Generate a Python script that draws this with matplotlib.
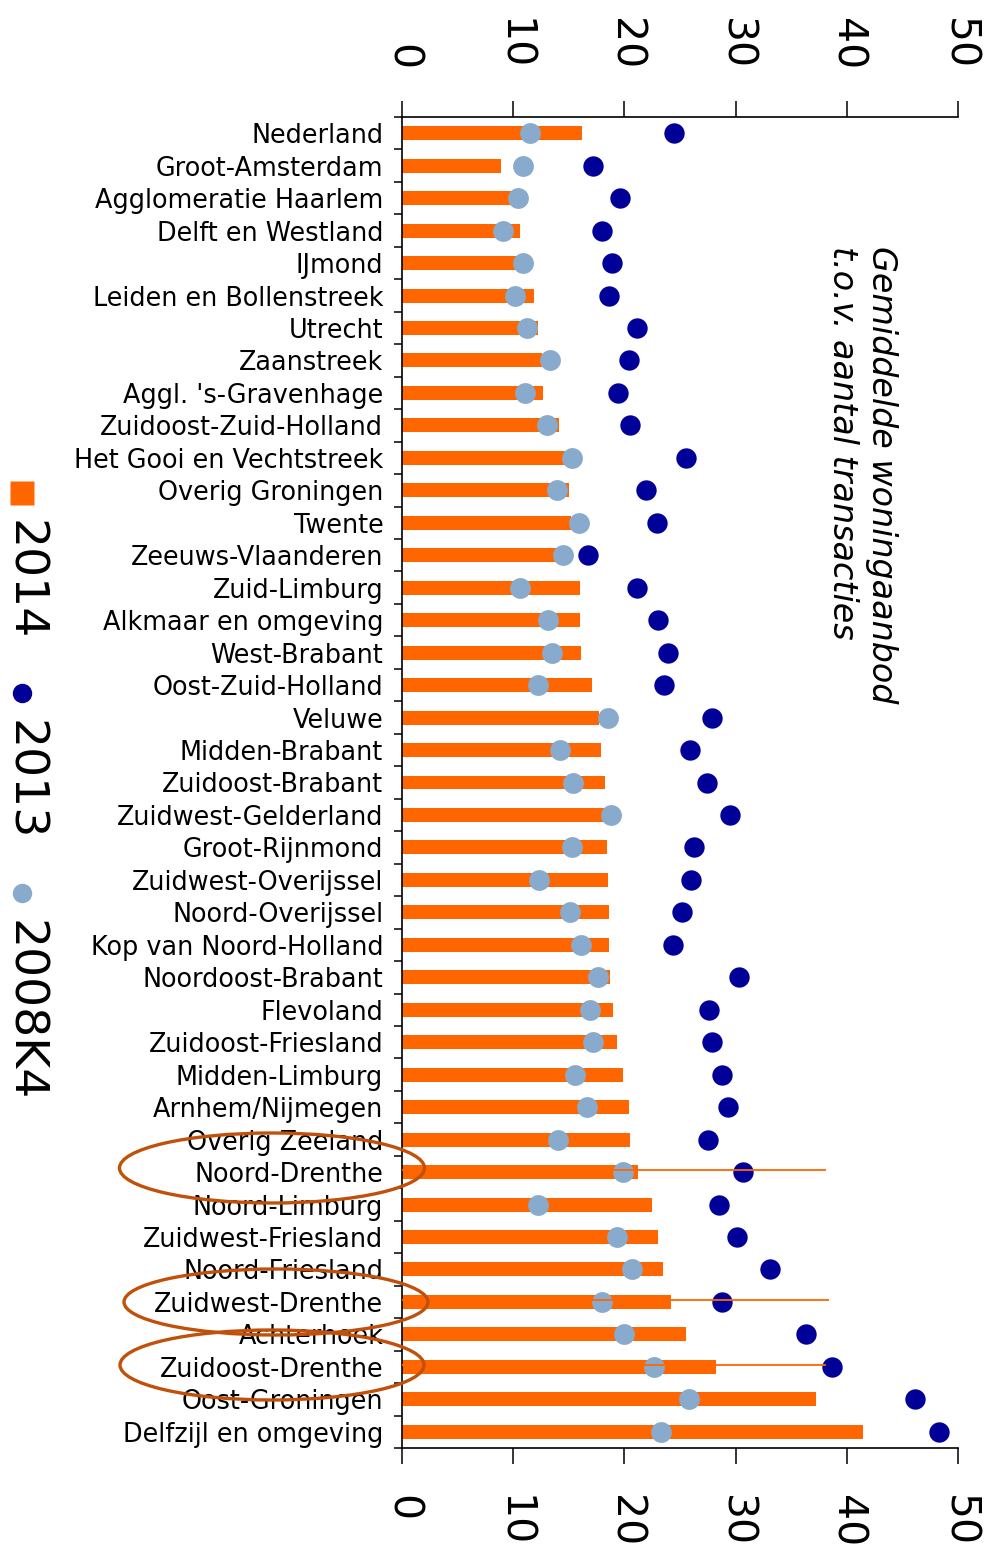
import matplotlib
matplotlib.use('Agg')
import matplotlib.pyplot as plt
from matplotlib.patches import Ellipse
from matplotlib.lines import Line2D
import numpy as np

# Regio's, van boven naar beneden
regios = [
    'Nederland', 'Groot-Amsterdam', 'Agglomeratie Haarlem', 'Delft en Westland',
    'IJmond', 'Leiden en Bollenstreek', 'Utrecht', 'Zaanstreek',
    "Aggl. 's-Gravenhage", 'Zuidoost-Zuid-Holland', 'Het Gooi en Vechtstreek',
    'Overig Groningen', 'Twente', 'Zeeuws-Vlaanderen', 'Zuid-Limburg',
    'Alkmaar en omgeving', 'West-Brabant', 'Oost-Zuid-Holland', 'Veluwe',
    'Midden-Brabant', 'Zuidoost-Brabant', 'Zuidwest-Gelderland', 'Groot-Rijnmond',
    'Zuidwest-Overijssel', 'Noord-Overijssel', 'Kop van Noord-Holland',
    'Noordoost-Brabant', 'Flevoland', 'Zuidoost-Friesland', 'Midden-Limburg',
    'Arnhem/Nijmegen', 'Overig Zeeland', 'Noord-Drenthe', 'Noord-Limburg',
    'Zuidwest-Friesland', 'Noord-Friesland', 'Zuidwest-Drenthe', 'Achterhoek',
    'Zuidoost-Drenthe', 'Oost-Groningen', 'Delfzijl en omgeving',
]

# maanden woningaanbod t.o.v. transacties
v2014 = [16.2, 8.9, 9.9, 10.6, 10.4, 11.9, 12.2, 12.6, 12.7, 14.1,
         14.7, 15.0, 15.2, 14.4, 16.0, 16.0, 16.1, 17.1, 17.7, 17.9,
         18.3, 18.2, 18.4, 18.5, 18.6, 18.6, 18.7, 19.0, 19.3, 19.9,
         20.4, 20.5, 21.2, 22.5, 23.0, 23.5, 24.2, 25.5, 28.2, 37.2, 41.5]
v2013 = [24.5, 17.2, 19.6, 18.0, 18.9, 18.6, 21.1, 20.4, 19.4, 20.5,
         25.5, 21.9, 22.9, 16.7, 21.1, 23.0, 23.9, 23.6, 27.9, 25.9,
         27.4, 29.5, 26.3, 26.0, 25.2, 24.4, 30.3, 27.6, 27.9, 28.8,
         29.3, 27.5, 30.7, 28.5, 30.1, 33.1, 28.8, 36.3, 38.7, 46.1, 48.3]
v2008k4 = [11.5, 10.9, 10.4, 9.1, 10.9, 10.2, 11.2, 13.3, 11.1, 13.0,
           15.3, 13.9, 15.9, 14.5, 10.6, 13.1, 13.5, 12.2, 18.5, 14.2,
           15.4, 18.8, 15.3, 12.3, 15.1, 16.1, 17.6, 16.9, 17.2, 15.6,
           16.6, 14.0, 19.9, 12.2, 19.3, 20.7, 18.0, 20.0, 22.7, 25.8, 23.3]

# Drentse regio's die extra worden uitgelicht
drenthe = ['Noord-Drenthe', 'Zuidwest-Drenthe', 'Zuidoost-Drenthe']
drenthe_lijn = [38.1, 38.4, 38.1]

ORANJE = '#FF6600'
DONKER = '#000099'
LICHT = '#88AACC'
OMCIRKEL = '#C0500A'

W, H = 989, 1555
fig = plt.figure(figsize=(W / 100, H / 100), dpi=100)
fig.patch.set_facecolor('white')


def fx(px):
    return px / W


def fy(py):
    return 1 - py / H


ax = fig.add_axes([fx(402), fy(1448), fx(958) - fx(402), fy(117) - fy(1448)])

y = np.arange(len(regios))
ax.barh(y, v2014, height=0.43, color=ORANJE, zorder=2)
ax.scatter(v2013, y, s=215, color=DONKER, zorder=3, linewidths=0)
ax.scatter(v2008k4, y, s=225, color=LICHT, zorder=4, linewidths=0)

for naam, eind in zip(drenthe, drenthe_lijn):
    i = regios.index(naam)
    ax.hlines(i - 0.05, 0, eind, color=ORANJE, lw=1.3, zorder=5)

ax.set_xlim(0, 50)
ax.set_ylim(len(regios) - 0.5, -0.5)

# x-as boven en onder, cijfers gedraaid
ax.set_xticks(np.arange(0, 51, 10))
ax.tick_params(axis='x', which='major', top=True, bottom=True, labeltop=True,
               labelbottom=True, direction='out', length=11.5, width=1.1,
               pad=22, labelsize=29.5, labelrotation=270)

# y-as: namen in het midden, streepjes op de grenzen
ax.set_yticks(y)
ax.set_yticklabels(regios, fontsize=18.4)
ax.set_yticks(np.arange(-0.5, len(regios), 1), minor=True)
ax.tick_params(axis='y', which='major', length=0, pad=13.5)
ax.tick_params(axis='y', which='minor', length=6, width=1.1, direction='out')

for s in ['top', 'bottom', 'left']:
    ax.spines[s].set_linewidth(1.2)
ax.spines['right'].set_visible(False)

# titel rechts in de grafiek
fig.text(fx(862), fy(246), 'Gemiddelde woningaanbod\nt.o.v. aantal transacties',
         rotation=270, ha='center', va='top', fontsize=24, style='italic',
         multialignment='left', linespacing=1.25)

# legenda links, gedraaid
legenda = [('s', ORANJE, 17, 493, 520, '2014'),
           ('o', DONKER, 14, 693, 720, '2013'),
           ('o', LICHT, 14, 893, 920, '2008K4')]
for mk, kleur, ms, my, ty, tekst in legenda:
    fig.add_artist(Line2D([fx(22)], [fy(my)], marker=mk, ms=ms, color=kleur,
                          mec='none', transform=fig.transFigure))
    fig.text(fx(23), fy(ty), tekst, rotation=270, ha='center', va='top', fontsize=34)

# ellipsen om de Drentse regio's
for cx, cy, w, h in [(272, 1168, 305, 70), (276, 1302, 304, 66), (272, 1365, 304, 70)]:
    fig.add_artist(Ellipse((fx(cx), fy(cy)), w / W, h / H, transform=fig.transFigure,
                           fill=False, ec=OMCIRKEL, lw=2.4, zorder=10))

fig.savefig('out.png', dpi=100, facecolor='white')
